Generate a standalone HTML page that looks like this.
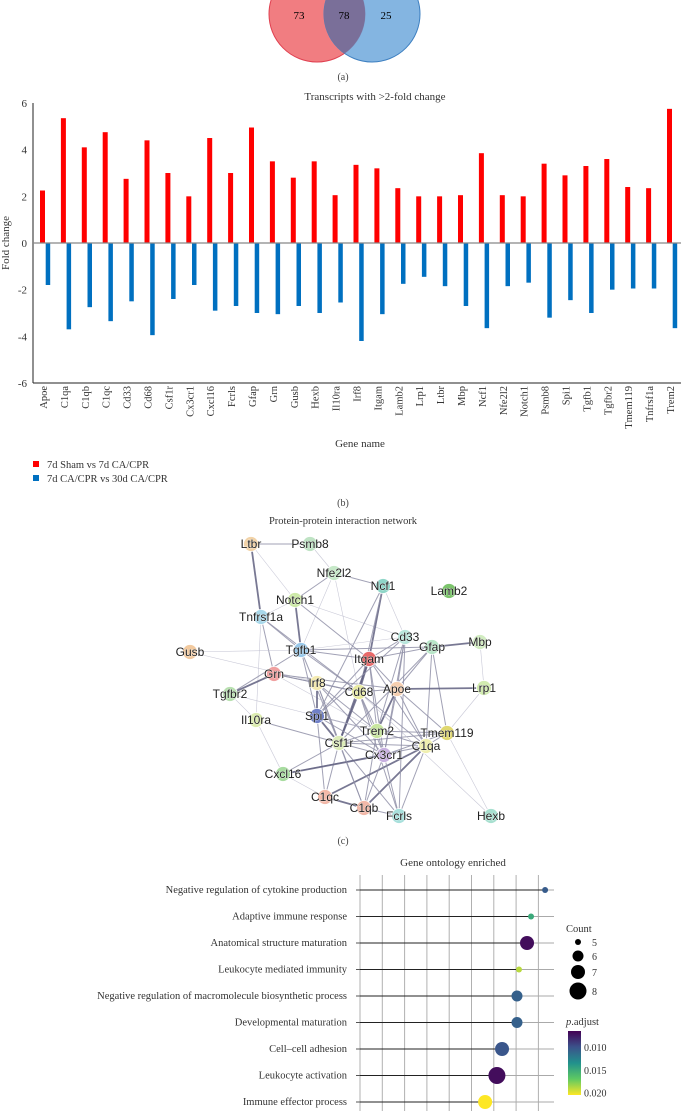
<!DOCTYPE html>
<html><head><meta charset="utf-8">
<style>
html,body{margin:0;padding:0;background:#fff;}
svg{display:block;}
.serif{font-family:"Liberation Serif",serif;}
.sans{font-family:"Liberation Sans",sans-serif;}
</style></head>
<body>
<svg id="fig" width="681" height="1111" viewBox="0 0 681 1111" xmlns="http://www.w3.org/2000/svg">
  <g>
    <circle cx="317" cy="14" r="48" fill="#ef6f73" fill-opacity="0.9" stroke="#e04050"/>
    <circle cx="372" cy="14" r="48" fill="#6fa8dc" fill-opacity="0.85" stroke="#3d7fc0"/>
    <path d="M344.5,-25.5 A48,48 0 0 1 344.5,53.5 A48,48 0 0 1 344.5,-25.5Z" fill="#7a6f99"/>
    <text x="299" y="19" class="serif" font-size="11" text-anchor="middle">73</text>
    <text x="344" y="19" class="serif" font-size="11" text-anchor="middle">78</text>
    <text x="386" y="19" class="serif" font-size="11" text-anchor="middle">25</text>
    <text x="343" y="80" class="serif" font-size="10" text-anchor="middle" fill="#444">(a)</text>
  </g>
  <g id="bars"></g>
  <g id="net"></g>
  <g id="go"></g>
</svg>
<script>
const genes=["Apoe","C1qa","C1qb","C1qc","Cd33","Cd68","Csf1r","Cx3cr1","Cxcl16","Fcrls","Gfap","Grn","Gusb","Hexb","Il10ra","Irf8","Itgam","Lamb2","Lrp1","Ltbr","Mbp","Ncf1","Nfe2l2","Notch1","Psmb8","Spi1","Tgfb1","Tgfbr2","Tmem119","Tnfrsf1a","Trem2"];
const shamVs7d=[2.25,5.35,4.1,4.75,2.75,4.4,3.0,2.0,4.5,3.0,4.95,3.5,2.8,3.5,2.05,3.35,3.2,2.35,2.0,2.0,2.05,3.85,2.05,2.0,3.4,2.9,3.3,3.6,2.4,2.35,5.75];
const d7Vs30d=[-1.8,-3.7,-2.75,-3.35,-2.5,-3.95,-2.4,-1.8,-2.9,-2.7,-3.0,-3.05,-2.7,-3.0,-2.55,-4.2,-3.05,-1.75,-1.45,-1.85,-2.7,-3.65,-1.85,-1.7,-3.2,-2.45,-3.0,-2.0,-1.95,-1.95,-3.65];
const yTicks=[6,4,2,0,-2,-4,-6];

const goTerms=["Negative regulation of cytokine production","Adaptive immune response","Anatomical structure maturation","Leukocyte mediated immunity","Negative regulation of macromolecule biosynthetic process","Developmental maturation","Cell\u2013cell adhesion","Leukocyte activation","Immune effector process"];
const goValues=[8.3,7.67,7.49,7.13,7.04,7.04,6.37,6.14,5.61];
const goCounts=[5,5,7,5,6,6,7,8,7];
const goPadj=[0.0105,0.015,0.007,0.019,0.0108,0.0108,0.0102,0.007,0.0205];
const countLegend=[5,6,7,8];
const padjTicks=[0.010,0.015,0.020];

const NS="http://www.w3.org/2000/svg";
function mk(tag,attrs,parent,txt){const e=document.createElementNS(NS,tag);for(const k in attrs)e.setAttribute(k,attrs[k]);if(txt!==undefined)e.textContent=txt;parent.appendChild(e);return e;}

const B=document.getElementById('bars');
const yS=v=>243-v*23.33;
const xS=i=>40+i*20.9;
let t=mk('text',{x:375,y:100,'text-anchor':'middle','font-size':11,class:'serif',fill:'#333'},B,'Transcripts with >2-fold change');


let ax=mk('line',{x1:33,y1:yS(6),x2:33,y2:yS(-6),stroke:'#222','stroke-width':1},B);


let bx=mk('line',{x1:33,y1:yS(-6),x2:681,y2:yS(-6),stroke:'#222','stroke-width':1},B);


yTicks.forEach(v=>{
  const l=mk('text',{x:27,y:yS(v)+4,'text-anchor':'end','font-size':11,class:'serif',fill:'#333'},B,String(v));
  
  
});
let yt=mk('text',{x:0,y:0,transform:'translate(9,'+yS(0)+') rotate(-90)','text-anchor':'middle','font-size':11,class:'serif',fill:'#333'},B,'Fold change');


genes.forEach((g,i)=>{
  const r=mk('rect',{x:xS(i),y:yS(shamVs7d[i]),width:5,height:yS(0)-yS(shamVs7d[i]),fill:'#ff0000'},B);
  
  
  const b=mk('rect',{x:xS(i)+5.7,y:yS(0),width:4.5,height:yS(d7Vs30d[i])-yS(0),fill:'#0070c0'},B);
  
  
  const l=mk('text',{x:0,y:0,transform:'translate('+(xS(i)+7)+',386) rotate(-90)','text-anchor':'end','font-size':10.5,class:'serif',fill:'#333'},B,g);
  
  
});
let zl=mk('line',{x1:33,y1:yS(0),x2:681,y2:yS(0),stroke:'#888','stroke-width':1.2},B);


let xt=mk('text',{x:360,y:447,'text-anchor':'middle','font-size':11,class:'serif',fill:'#333'},B,'Gene name');


[['#ff0000','7d Sham vs 7d CA/CPR',466],['#0070c0','7d CA/CPR vs 30d CA/CPR',480]].forEach(([c,s,y],k)=>{
  const sq=mk('rect',{x:33,y:y-5,width:6,height:6,fill:c},B);
  
  
  const tx=mk('text',{x:47,y:y+2,'font-size':10.5,class:'serif',fill:'#333'},B,s);
  
  
});
let pb=mk('text',{x:343,y:506,'text-anchor':'middle','font-size':10,class:'serif',fill:'#444'},B,'(b)');



const N=document.getElementById('net');
const nodes={Ltbr:[251,544,'#f2d3a8'],Psmb8:[310,544,'#bfe3c4'],Nfe2l2:[334,573,'#c6e8c8'],Ncf1:[383,586,'#8fd6c8'],Lamb2:[449,591,'#7cc46c'],Notch1:[295,600,'#cde9a8'],Tnfrsf1a:[261,617,'#a8d8ea'],Cd33:[405,637,'#b8e6dc'],Gfap:[432,647,'#b8e6c8'],Mbp:[480,642,'#d1ecc0'],Gusb:[190,652,'#f2caa0'],Tgfb1:[301,650,'#98c8ea'],Itgam:[369,659,'#e86a6a'],Grn:[274,674,'#f0a0a0'],Irf8:[317,683,'#f4eab0'],Cd68:[359,692,'#e8eaa0'],Apoe:[397,689,'#f6cfb0'],Lrp1:[484,688,'#d2ecb0'],Tgfbr2:[230,694,'#b8e0b0'],Spi1:[317,716,'#7080c8'],Il10ra:[256,720,'#dcecb0'],Trem2:[377,731,'#c8e6a0'],Tmem119:[447,733,'#e0d870'],Csf1r:[339,743,'#dcecb8'],C1qa:[426,746,'#f0f0b0'],Cx3cr1:[384,755,'#c8b0e0'],Cxcl16:[283,774,'#a8dca0'],C1qc:[325,797,'#f2b8a8'],C1qb:[364,808,'#f2b8a8'],Fcrls:[399,816,'#a8e0dc'],Hexb:[491,816,'#a8e0d0']};
const edges=[["Ltbr","Psmb8",1],["Ltbr","Tnfrsf1a",2],["Ltbr","Notch1",0],["Psmb8","Nfe2l2",0],["Nfe2l2","Ncf1",1],["Nfe2l2","Notch1",1],["Nfe2l2","Tgfb1",0],["Nfe2l2","Cd68",0],["Notch1","Tgfb1",2],["Notch1","Tnfrsf1a",0],["Notch1","Itgam",1],["Notch1","Cd33",0],["Tnfrsf1a","Tgfb1",1],["Tnfrsf1a","Grn",1],["Tnfrsf1a","Cd68",1],["Tnfrsf1a","Il10ra",0],["Ncf1","Itgam",2],["Ncf1","Cd68",1],["Ncf1","Spi1",1],["Ncf1","Cd33",0],["Gusb","Tgfb1",0],["Gusb","Cd68",0],["Tgfb1","Itgam",1],["Tgfb1","Cd68",1],["Tgfb1","Spi1",1],["Tgfb1","Tgfbr2",1],["Tgfb1","Csf1r",1],["Tgfb1","Cd33",0],["Tgfb1","Gfap",1],["Grn","Tgfbr2",2],["Grn","Cd68",1],["Grn","Irf8",1],["Grn","Apoe",1],["Grn","Trem2",0],["Itgam","Cd68",2],["Itgam","Spi1",1],["Itgam","Csf1r",2],["Itgam","Trem2",1],["Itgam","Cx3cr1",1],["Itgam","C1qa",1],["Itgam","Cd33",1],["Itgam","Gfap",1],["Itgam","Apoe",1],["Cd33","Apoe",1],["Cd33","Trem2",1],["Cd33","Cx3cr1",1],["Cd33","Spi1",1],["Gfap","Mbp",2],["Gfap","Apoe",1],["Gfap","C1qa",1],["Gfap","Csf1r",1],["Gfap","Tmem119",1],["Mbp","Lrp1",0],["Apoe","Lrp1",2],["Apoe","Trem2",2],["Apoe","Cd68",1],["Apoe","C1qa",1],["Apoe","Tmem119",1],["Apoe","Cx3cr1",1],["Irf8","Spi1",2],["Irf8","Cd68",1],["Irf8","Csf1r",1],["Irf8","Trem2",1],["Irf8","Cx3cr1",1],["Cd68","Trem2",1],["Cd68","Csf1r",2],["Cd68","C1qa",1],["Cd68","Cx3cr1",1],["Spi1","Csf1r",2],["Spi1","Trem2",1],["Spi1","C1qc",1],["Spi1","Cx3cr1",1],["Il10ra","Csf1r",1],["Il10ra","Cxcl16",0],["Tgfbr2","Il10ra",0],["Tgfbr2","Trem2",0],["Trem2","Tmem119",1],["Trem2","C1qa",1],["Trem2","Cx3cr1",1],["Trem2","Csf1r",1],["Trem2","C1qb",1],["Tmem119","C1qa",1],["Tmem119","Csf1r",1],["Tmem119","Cx3cr1",1],["Tmem119","Hexb",0],["Lrp1","Tmem119",0],["C1qa","C1qb",2],["C1qa","C1qc",2],["C1qa","Csf1r",1],["C1qa","Cxcl16",1],["C1qa","Fcrls",1],["Csf1r","C1qb",1],["Csf1r","C1qc",1],["Csf1r","Fcrls",1],["Csf1r","Cx3cr1",1],["Csf1r","Cxcl16",1],["Cx3cr1","C1qb",1],["Cx3cr1","Fcrls",1],["Cx3cr1","Cxcl16",2],["C1qc","C1qb",2],["C1qb","Fcrls",1],["Cd68","Fcrls",1],["Cd68","Hexb",0],["Cxcl16","C1qc",0],["Irf8","C1qb",1],["Cd33","Fcrls",1]];
const ew=[[0.6,'#c0c0d0'],[1,'#9090a8'],[1.8,'#606080']];
edges.forEach(([a,b,w])=>{
  const A=nodes[a],Bn=nodes[b];
  const l=mk('line',{x1:A[0],y1:A[1],x2:Bn[0],y2:Bn[1],stroke:ew[w][1],'stroke-width':ew[w][0],'stroke-opacity':0.85},N);
  
  
});
for(const k in nodes){
  const [x,y,c]=nodes[k];
  const ci=mk('circle',{cx:x,cy:y,r:7.5,fill:c,stroke:'#fff','stroke-width':0.8},N);
  
  
  const tx=mk('text',{x:x,y:y+4,'text-anchor':'middle','font-size':12,class:'sans',fill:'#222',stroke:'#fff','stroke-width':0.8,'stroke-opacity':0.7,'paint-order':'stroke'},N,k);
  
  
}
let nt=mk('text',{x:343,y:524,'text-anchor':'middle','font-size':10.5,class:'serif',fill:'#333'},N,'Protein-protein interaction network');


let pc=mk('text',{x:343,y:844,'text-anchor':'middle','font-size':10,class:'serif',fill:'#444'},N,'(c)');



const G=document.getElementById('go');
const gx=v=>360+v*22.3;
const gy=i=>890+i*26.5;
const rS=c=>[3,5.5,7,8.5][c-5];
const vir=[[0,[68,1,84]],[0.25,[59,82,139]],[0.5,[33,145,140]],[0.75,[94,201,98]],[1,[253,231,37]]];
const pMin=0.0065,pMax=0.0205;
function col(p){let f=Math.max(0,Math.min(1,(p-pMin)/(pMax-pMin)));for(let k=1;k<vir.length;k++){if(f<=vir[k][0]){const[a,ca]=vir[k-1],[b,cb]=vir[k];const u=(f-a)/(b-a);return 'rgb('+ca.map((v,j)=>Math.round(v+(cb[j]-v)*u)).join(',')+')';}}return 'rgb(253,231,37)';}
let gt=mk('text',{x:453,y:866,'text-anchor':'middle','font-size':11,class:'serif',fill:'#333'},G,'Gene ontology enriched');


for(let k=0;k<9;k++){
  const l=mk('line',{x1:gx(k),y1:875,x2:gx(k),y2:1111,stroke:'#b0b0b0','stroke-width':1},G);
  
  
}
goTerms.forEach((s,i)=>{
  const y=gy(i);
  const bg=mk('line',{x1:gx(0),y1:y,x2:554,y2:y,stroke:'#aaa','stroke-width':1},G);
  
  
  const st=mk('line',{x1:gx(0),y1:y,x2:gx(goValues[i]),y2:y,stroke:'#222','stroke-width':1},G);
  
  
  const tk=mk('line',{x1:gx(0)-4,y1:y,x2:gx(0),y2:y,stroke:'#555','stroke-width':1},G);
  
  
  const c=mk('circle',{cx:gx(goValues[i]),cy:y,r:rS(goCounts[i]),fill:col(goPadj[i])},G);
  
  
  const tx=mk('text',{x:347,y:y+3,'text-anchor':'end','font-size':10.5,class:'serif',fill:'#333'},G,s);
  
  
});
let cl=mk('text',{x:566,y:932,'font-size':10.5,class:'serif',fill:'#333'},G,'Count');


const cy=[942,956,972,991];
countLegend.forEach((c,k)=>{
  const d=mk('circle',{cx:578,cy:cy[k],r:rS(c),fill:'#000'},G);
  
  
  const tx=mk('text',{x:592,y:cy[k]+4,'font-size':10,class:'serif',fill:'#333'},G,String(c));
  
  
});
let pl=mk('text',{x:566,y:1025,'font-size':10.5,class:'serif',fill:'#333'},G);


mk('tspan',{'font-style':'italic'},pl,'p');mk('tspan',{},pl,'.adjust');
const defs=mk('defs',{},G);
const lg=mk('linearGradient',{id:'vg',x1:0,y1:0,x2:0,y2:1},defs);
vir.forEach(([o,c])=>mk('stop',{offset:o,'stop-color':'rgb('+c.join(',')+')'},lg));
const cbTop=1031,cbBot=1095;
const py=p=>cbTop+(p-pMin)/(pMax-pMin)*(cbBot-cbTop);
let cb=mk('rect',{x:568,y:cbTop,width:13,height:cbBot-cbTop,fill:'url(#vg)'},G);


padjTicks.forEach(p=>{
  const tx=mk('text',{x:584,y:py(p)+4,'font-size':10,class:'serif',fill:'#333'},G,p.toFixed(3));
  
  
});
</script>
</body></html>
